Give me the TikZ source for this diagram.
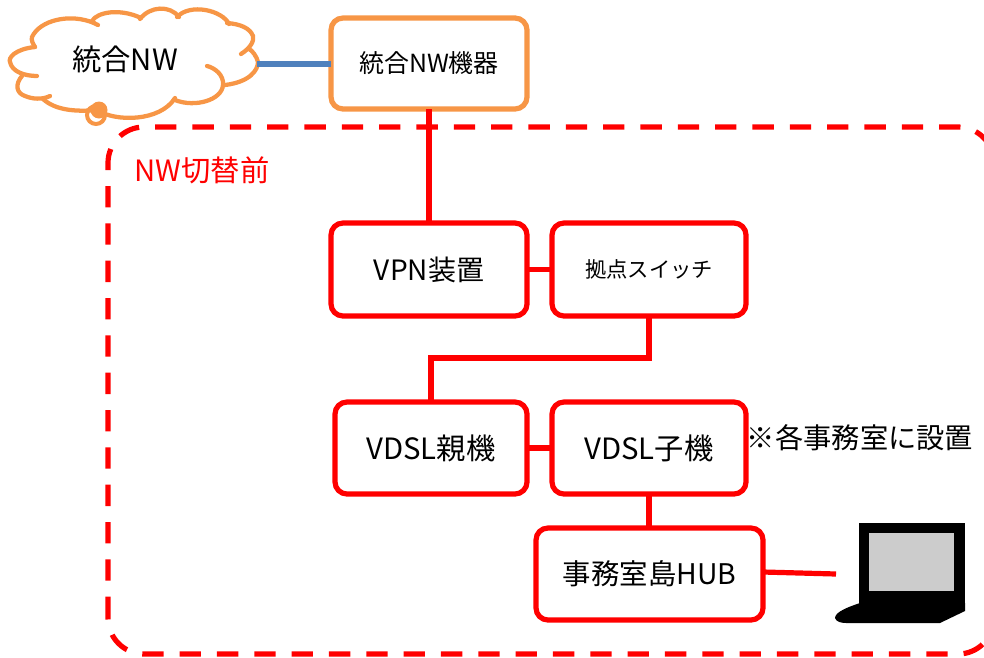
\documentclass[tikz,border=0pt]{standalone}
\usepackage{fontspec}
\setmainfont{Noto Sans CJK JP}
\definecolor{orng}{RGB}{247,150,70}
\definecolor{nwblue}{RGB}{79,129,189}
\tikzset{
  rbox/.style={draw=red,line width=3.9pt,rounded corners=9pt,fill=white,anchor=north west,inner sep=0pt,outer sep=0pt,align=center},
  obox/.style={rbox,draw=orng},
  link/.style={draw=red,line width=3.9pt},
  cloudline/.style={draw=orng,line width=3.2pt,line cap=round},
  lbl/.style={inner sep=0pt,font=\fontsize{22}{26}\selectfont}
}
\newcommand{\boxat}[7]{\node[#1,minimum width=#4*0.75pt,minimum height=#5*0.75pt,font=\fontsize{#6}{#6}\selectfont] (#2) at #3 {\raisebox{1pt}{#7}};}
\begin{document}
\begin{tikzpicture}[x=0.75pt,y=-0.75pt]
\useasboundingbox (0,0) rectangle (984,657);
% dashed frame
\clip (0,0) rectangle (984,657);
\draw[red,line width=3.9pt,dash pattern=on 16pt off 12pt,rounded corners=27pt] (108,654) -- (108,127) -- (994,127) -- (994,654) -- cycle;
% cloud
\filldraw[cloudline,fill=white] (35,47) .. controls (15,49) and (8,58) .. (10,62) .. controls (12,72) and (25,76) .. (37,76);
\draw[cloudline] (22,76) .. controls (15,84) and (16,93) .. (25,96) .. controls (32,99) and (42,100) .. (50,96);
\draw[cloudline] (43,99) .. controls (55,110) and (75,112) .. (97,110) .. controls (115,122) and (160,122) .. (175,98);
\draw[cloudline] (175,100) .. controls (195,108) and (222,100) .. (223,85) .. controls (224,75) and (215,68) .. (207,66);
\draw[cloudline] (225,85) .. controls (250,82) and (258,70) .. (258,62) .. controls (257,57) and (252,50) .. (249,49);
\draw[cloudline] (241,54) .. controls (252,47) and (254,40) .. (253,36) .. controls (250,28) and (240,24) .. (227,23);
\draw[cloudline] (229,24) .. controls (222,10) and (190,3) .. (177,17);
\draw[cloudline] (179,17) .. controls (170,5) and (150,6) .. (140,19);
\draw[cloudline] (141,18) .. controls (120,8) and (97,12) .. (92,21) .. controls (93,23) and (96,24) .. (98,25);
\draw[cloudline] (94,23) .. controls (70,13) and (40,20) .. (32,37) .. controls (31,40) and (33,44) .. (35,47);
\draw[orng,line width=3pt] (96,115) circle (9);
\fill[orng] (99,110) circle (8.5);
\node[lbl] (cloudtext) at (125,59) {統合NW};
\coordinate (cloudright) at (257,64);
% boxes
\boxat{obox}{nwbox}{(331,18)}{196}{91}{18.7}{統合NW機器}
\boxat{rbox}{vpn}{(331,223)}{196}{93}{21}{VPN装置}
\boxat{rbox}{sw}{(552,223)}{194}{93}{16}{拠点スイッチ}
\boxat{rbox}{parent}{(335,402)}{192}{92}{22}{VDSL親機}
\boxat{rbox}{child}{(552,402)}{194}{92}{22}{VDSL子機}
\boxat{rbox}{hub}{(536,528)}{227}{92}{21.3}{事務室島HUB}
% connectors
\draw[nwblue,line width=3.9pt] (cloudright) -- (cloudright -| nwbox.west);
\draw[link] (nwbox.south) -- (vpn.north);
\draw[link] (vpn.east) -- (sw.west);
\draw[link] (sw.south) -- (649,358) -- (431,358) -- (431,402);
\draw[link] (parent.east) -- (child.west);
\draw[link] (child.south) -- (hub.north -| child.south);
% laptop
\fill[black] (859,523) rectangle (965,606);
\fill[black] (860,603) .. controls (848,607) and (835,612) .. (835,618) .. controls (836,622) and (842,623) .. (846,623) -- (940,623) -- (965,611) -- (965,603) -- cycle;
\fill[black!20] (869,533) rectangle (954,591);
\coordinate (laptop) at (836,574);
\draw[link] ([yshift=1.5pt]hub.east) -- (laptop);
% labels
\node[lbl,text=red] (frametitle) at (202,170) {NW切替前};
\node[lbl,font=\fontsize{21.2}{25}\selectfont] (note) at (860,438) {※各事務室に設置};
\end{tikzpicture}
\end{document}
